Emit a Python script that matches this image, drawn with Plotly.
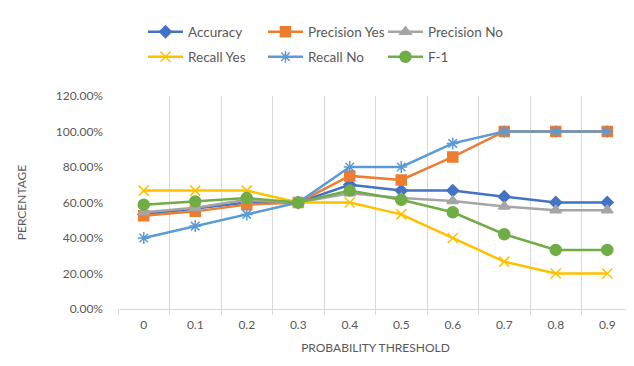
import plotly.graph_objects as go

thresholds = ["0", "0.1", "0.2", "0.3", "0.4", "0.5", "0.6", "0.7", "0.8", "0.9"]
accuracy = [0.533, 0.567, 0.600, 0.600, 0.700, 0.667, 0.667, 0.633, 0.600, 0.600]
precision_yes = [0.526, 0.550, 0.588, 0.600, 0.750, 0.727, 0.857, 1.000, 1.000, 1.000]
precision_no = [0.545, 0.571, 0.615, 0.600, 0.652, 0.625, 0.609, 0.577, 0.556, 0.556]
recall_yes = [0.667, 0.667, 0.667, 0.600, 0.600, 0.533, 0.400, 0.267, 0.200, 0.200]
recall_no = [0.400, 0.467, 0.533, 0.600, 0.800, 0.800, 0.933, 1.000, 1.000, 1.000]
f1 = [0.588, 0.606, 0.625, 0.600, 0.667, 0.615, 0.545, 0.421, 0.333, 0.333]

series = [
    ("Accuracy", accuracy, "#4472C4", "diamond", 9, "legend"),
    ("Precision Yes", precision_yes, "#ED7D31", "square", 10, "legend"),
    ("Precision No", precision_no, "#A5A5A5", "triangle-up", 10, "legend"),
    ("Recall Yes", recall_yes, "#FFC000", "x-thin-open", 10, "legend2"),
    ("Recall No", recall_no, "#5B9BD5", "asterisk-open", 10, "legend2"),
    ("F-1", f1, "#70AD47", "circle", 11, "legend2"),
]

fig = go.Figure()
for name, vals, color, sym, size, lg in series:
    fig.add_trace(go.Scatter(
        x=thresholds, y=vals, name=name, mode="lines+markers",
        line=dict(color=color, width=2.5),
        marker=dict(symbol=sym, size=size, color=color,
                    line=dict(color=color, width=1.5)),
        legend=lg,
    ))

# page body has an 8px margin, so the figure is sized to fill the window
W, H = 626, 358
font_family = "Lato, Open Sans, sans-serif"
legend_common = dict(
    orientation="h", xanchor="left", yanchor="middle",
    xref="container", yref="container",
    font=dict(family=font_family, size=13.5, color="#595959"),
    entrywidth=70, entrywidthmode="pixels",
    bgcolor="rgba(0,0,0,0)", itemwidth=35, tracegroupgap=0,
)

fig.update_layout(
    width=W, height=H,
    paper_bgcolor="white", plot_bgcolor="white",
    margin=dict(l=110, r=1, t=88, b=57, autoexpand=False),
    font=dict(family=font_family, color="#595959", size=12),
    legend=dict(x=135 / W, y=1 - 24 / H, **legend_common),
    legend2=dict(x=135 / W, y=1 - 49 / H, **legend_common),
    xaxis=dict(
        type="category", tickson="boundaries", showgrid=True,
        range=[-0.5, len(thresholds) - 0.5],
        gridcolor="#D9D9D9", gridwidth=1, automargin=False,
        showline=True, linecolor="#D9D9D9", linewidth=1,
        ticks="outside", tickcolor="#D9D9D9", ticklen=5,
        ticklabelstandoff=5,
        tickfont=dict(size=12, color="#595959"),
        title=dict(text="PROBABILITY THRESHOLD", font=dict(size=12, color="#595959"), standoff=12),
        zeroline=False,
    ),
    yaxis=dict(
        range=[0, 1.2], dtick=0.2, tickformat=".2%", automargin=False,
        showgrid=False, zeroline=False, showline=False,
        ticklabelstandoff=14,
        tickfont=dict(size=12, color="#595959"),
        title=dict(text="PERCENTAGE", font=dict(size=12, color="#595959"), standoff=26),
    ),
)

fig.write_html("out.html")
